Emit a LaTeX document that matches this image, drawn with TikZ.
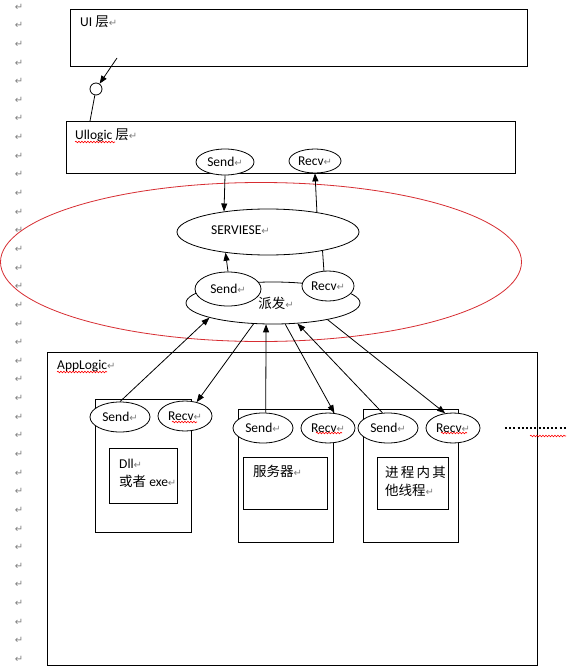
\documentclass[tikz,border=0pt]{standalone}
\usepackage{fontspec}
\setmainfont{Carlito}
\newfontfamily\cjk{Noto Sans CJK SC}
\newfontfamily\markfont{DejaVu Sans}
\usetikzlibrary{shapes.geometric,arrows.meta,positioning,calc,decorations.pathmorphing}
\definecolor{markgray}{RGB}{128,128,128}
\definecolor{ringred}{RGB}{215,45,50}
\def\markstep{18.64}
\def\linew{0.8pt}
\newcommand{\retmark}{{\markfont\color{markgray}\fontsize{10}{10}\selectfont ↵}}

\tikzset{
  box/.style={draw, line width=\linew, anchor=north west, inner sep=0},
  port/.style={draw, ellipse, fill=white, line width=\linew, inner sep=0, font=\fontsize{13.5}{16}\selectfont},
  lbl/.style={anchor=west, inner sep=0, align=left, font=\fontsize{13.5}{18}\selectfont},
  arr/.style={-{Triangle[length=8pt,width=6pt]}, line width=\linew},
  squig/.style={draw=red, line width=0.6pt, decorate, decoration={snake, amplitude=0.8pt, segment length=3pt}},
}

\begin{document}
\begin{tikzpicture}[x=1pt,y=-1pt]
  \useasboundingbox[fill=white] (0,0) rectangle (566,671);

  % paragraph marks down the margin
  \foreach \i in {0,...,35}
    \node[inner sep=0] (mk\i) at (19,{7+\markstep*\i}) {\retmark};

  % UI layer
  \node[box, minimum width=457pt, minimum height=57pt] (ui) at (70,9) {};
  \node[lbl] (uitext) at (80,22) {UI {\cjk 层}\retmark};
  \node[draw, circle, minimum size=12pt, inner sep=0, line width=\linew] (knot) at (96,89) {};
  \coordinate (uiout) at (117,58);
  \coordinate (ulin) at (90,121);
  \draw[arr] (uiout) -- (knot);
  \draw[line width=\linew] (knot) -- (ulin);

  % Ullogic layer
  \node[box, minimum width=449pt, minimum height=52pt] (ullogic) at (66,121) {};
  \node[lbl] (ultext) at (75,135) {Ullogic {\cjk 层}\retmark};
  \draw[squig] (75,142) -- (115,142);
  \node[port, minimum width=58pt, minimum height=26pt] (sendU) at (225,162) {Send\retmark};
  \node[port, minimum width=52pt, minimum height=24pt] (recvU) at (315,161) {Recv\retmark};

  % service ring
  \node[draw=ringred, ellipse, line width=\linew, minimum width=521pt, minimum height=159pt] (ring) at (261,262) {};
  \node[draw, ellipse, line width=\linew, minimum width=182pt, minimum height=46pt] (serv) at (268,232) {};
  \node[lbl] (servtext) at (211,230) {SERVIESE\retmark};
  \node[draw, ellipse, line width=\linew, minimum width=174pt, minimum height=42pt, font=\fontsize{13.5}{16}\selectfont] (paifa) at (273,303) {\hspace{6pt}{\cjk 派发}\retmark};
  \node[port, minimum width=66pt, minimum height=34pt] (sendL) at (228,289) {Send\retmark};
  \node[port, minimum width=52pt, minimum height=30pt] (recvL) at (328,286) {Recv\retmark};

  \draw[arr] (sendU.south) -- (serv.155);
  \draw[arr] (serv.22) -- (recvU.south);
  \draw[arr] (sendL.north) -- (serv.206);
  \draw[line width=\linew] (recvL.105) -- (serv.-19);

  % AppLogic layer
  \node[box, minimum width=490pt, minimum height=313pt] (applogic) at (47,352) {};
  \node[lbl] (apptext) at (57,366) {AppLogic\retmark};
  \draw[squig] (57,372) -- (107,372);

  \node[box, minimum width=96pt, minimum height=133pt] (dllout) at (95,399) {};
  \node[box, minimum width=68pt, minimum height=55pt] (dllin) at (109,448) {};
  \node[lbl] (dlltext) at (119,473) {Dll\retmark\\{\cjk 或者} exe\retmark};

  \node[box, minimum width=95pt, minimum height=133pt] (srvout) at (238,409) {};
  \node[box, minimum width=84pt, minimum height=52pt] (srvin) at (243,457) {};
  \node[lbl] (srvtext) at (253,471) {{\cjk 服务器}\retmark};

  \node[box, minimum width=95pt, minimum height=133pt] (throut) at (363,409) {};
  \node[box, minimum width=71pt, minimum height=52pt] (thrin) at (377,457) {};
  \node[lbl] (thrtext) at (385,481) {{\cjk 进\,程\,内\,其}\\{\cjk 他线程}\retmark};

  \node[port, minimum width=60pt, minimum height=30pt] (send1) at (120,417) {Send\retmark};
  \node[port, minimum width=54pt, minimum height=30pt] (recv1) at (185,416) {Recv\retmark};
  \node[port, minimum width=60pt, minimum height=30pt] (send2) at (263,428) {Send\retmark};
  \node[port, minimum width=54pt, minimum height=30pt] (recv2) at (328,428) {Recv\retmark};
  \node[port, minimum width=60pt, minimum height=30pt] (send3) at (388,428) {Send\retmark};
  \node[port, minimum width=54pt, minimum height=30pt] (recv3) at (453,428) {Recv\retmark};
  \draw[squig] (172,422) -- (197,422);
  \draw[squig] (316,433) -- (342,433);
  \draw[squig] (441,433) -- (467,433);

  % links to the dispatcher
  \draw[arr] (send1.north) -- (paifa.193);
  \draw[arr] (paifa.227) -- (recv1.50);
  \draw[arr] (send2.80) -- (paifa.252);
  \draw[arr] (paifa.-60) -- (recv2.67);
  \draw[arr] (send3.110) -- (paifa.-40);
  \draw[arr] (paifa.-17) -- (recv3.118);

  % more threads
  \draw[line width=2pt, dash pattern=on 2pt off 2.2pt] (505,428) -- (566,428);
  \draw[squig] (530,436) -- (566,436);
\end{tikzpicture}
\end{document}
